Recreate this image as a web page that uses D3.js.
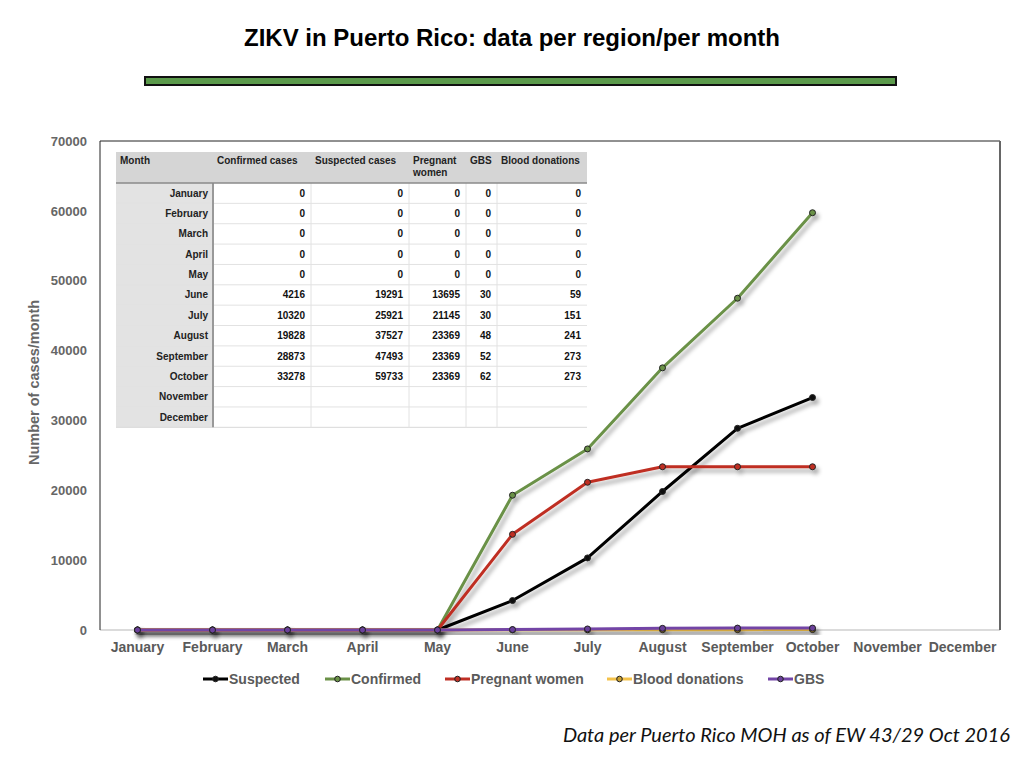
<!DOCTYPE html>
<html>
<head>
<meta charset="utf-8">
<script src="https://cdn.jsdelivr.net/npm/d3@7"></script>
<style>
  body { margin: 0; background: #fff; }
  svg { display: block; font-family: "Liberation Sans", Arial, sans-serif; }
</style>
</head>
<body>
<svg id="chart" width="1024" height="768"></svg>
<script>
const months = ["January", "February", "March", "April", "May", "June",
  "July", "August", "September", "October", "November", "December"];

// table columns as printed in the overlay
const confirmedCases = [0, 0, 0, 0, 0, 4216, 10320, 19828, 28873, 33278, null, null];
const suspectedCases = [0, 0, 0, 0, 0, 19291, 25921, 37527, 47493, 59733, null, null];
const pregnantWomen = [0, 0, 0, 0, 0, 13695, 21145, 23369, 23369, 23369, null, null];
const gbsCases = [0, 0, 0, 0, 0, 30, 30, 48, 52, 62, null, null];
const bloodDonations = [0, 0, 0, 0, 0, 59, 151, 241, 273, 273, null, null];

const tableHeaders = ["Month", "Confirmed cases", "Suspected cases", "Pregnant women", "GBS", "Blood donations"];
const tableColumns = [confirmedCases, suspectedCases, pregnantWomen, gbsCases, bloodDonations];

const yTicks = [0, 10000, 20000, 30000, 40000, 50000, 60000, 70000];

// the original chart's legend names do not line up with the table columns;
// lines are drawn the way the picture shows them
const series = [
  { name: "Suspected", values: confirmedCases, color: "#000000", marker: "#111111" },
  { name: "Confirmed", values: suspectedCases, color: "#6a9147", marker: "#6a9147" },
  { name: "Pregnant women", values: pregnantWomen, color: "#bf2f24", marker: "#bf2f24" },
  { name: "Blood donations", values: gbsCases, color: "#f4c24a", marker: "#c9a030" },
  { name: "GBS", values: bloodDonations, color: "#7345a6", marker: "#6a3f9a" }
];

const svg = d3.select("#chart");
const margin = { top: 141, right: 24, bottom: 138, left: 100 };
const width = 1024 - margin.left - margin.right;
const height = 768 - margin.top - margin.bottom;

// drop shadow used on lines
const defs = svg.append("defs");
defs.append("filter")
  .attr("id", "shadow")
  .attr("x", "-10%").attr("y", "-10%")
  .attr("width", "130%").attr("height", "130%")
  .append("feDropShadow")
  .attr("dx", 3).attr("dy", 4)
  .attr("stdDeviation", 2)
  .attr("flood-color", "#000")
  .attr("flood-opacity", 0.35);

// title and green bar
svg.append("text")
  .attr("x", 512)
  .attr("y", 46)
  .attr("text-anchor", "middle")
  .style("font-size", "24px")
  .style("font-weight", "bold")
  .text("ZIKV in Puerto Rico: data per region/per month");

svg.append("rect")
  .attr("x", 145).attr("y", 77)
  .attr("width", 751).attr("height", 8)
  .attr("fill", "#5b9a4b")
  .attr("stroke", "#111")
  .attr("stroke-width", 2);

const g = svg.append("g")
  .attr("transform", `translate(${margin.left},${margin.top})`);

const x = d3.scaleBand()
  .domain(months)
  .range([0, width]);

const y = d3.scaleLinear()
  .domain([0, 70000])
  .range([height, 0]);

// frame
g.append("line")
  .attr("x1", 0).attr("x2", width).attr("y1", height).attr("y2", height)
  .attr("stroke", "#cfcfcf").attr("stroke-width", 1.5);
g.append("line")
  .attr("x1", 0).attr("x2", width).attr("y1", 0).attr("y2", 0)
  .attr("stroke", "#222").attr("stroke-width", 1);
g.append("line")
  .attr("x1", 0).attr("x2", 0).attr("y1", 0).attr("y2", height)
  .attr("stroke", "#222").attr("stroke-width", 1);
g.append("line")
  .attr("x1", width).attr("x2", width).attr("y1", 0).attr("y2", height)
  .attr("stroke", "#666").attr("stroke-width", 2);

// axes
const yAxis = g.append("g")
  .call(d3.axisLeft(y).tickValues(yTicks).tickFormat(d3.format("d")).tickSize(0).tickPadding(13));
yAxis.select(".domain").remove();
yAxis.selectAll("text")
  .style("font-size", "13px")
  .style("font-weight", "bold")
  .attr("fill", "#666");

const xAxis = g.append("g")
  .attr("transform", `translate(0,${height})`)
  .call(d3.axisBottom(x).tickSize(0).tickPadding(12));
xAxis.select(".domain").remove();
xAxis.selectAll("text")
  .style("font-size", "14px")
  .style("font-weight", "bold")
  .attr("fill", "#5a5a5a");

svg.append("text")
  .attr("transform", `translate(39,${margin.top + height / 2 - 3}) rotate(-90)`)
  .attr("text-anchor", "middle")
  .style("font-size", "14.5px")
  .style("font-weight", "bold")
  .attr("fill", "#666")
  .text("Number of cases/month");

// table overlay
const table = svg.append("g").attr("transform", "translate(116,152)");
const colEdges = [0, 97, 195, 293, 350, 381, 471];
const headerH = 31;
const rowH = 20.36;
const tableH = headerH + rowH * months.length;

table.append("rect")
  .attr("width", colEdges[colEdges.length - 1]).attr("height", tableH)
  .attr("fill", "#fff");
table.append("rect")
  .attr("width", colEdges[colEdges.length - 1]).attr("height", headerH)
  .attr("fill", "#d5d5d5");
table.append("rect")
  .attr("y", headerH)
  .attr("width", colEdges[1]).attr("height", tableH - headerH)
  .attr("fill", "#e3e3e3");

months.forEach((m, i) => {
  const top = headerH + rowH * (i + 1);
  table.append("line")
    .attr("x1", 0).attr("x2", colEdges[colEdges.length - 1])
    .attr("y1", top).attr("y2", top)
    .attr("stroke", i === months.length - 1 ? "#d8d8d8" : "#e2e2e2");
});
colEdges.slice(2, -1).forEach(cx => {
  table.append("line")
    .attr("x1", cx).attr("x2", cx).attr("y1", headerH).attr("y2", tableH)
    .attr("stroke", "#e2e2e2");
});
table.append("line")
  .attr("x1", colEdges[1]).attr("x2", colEdges[1]).attr("y1", headerH).attr("y2", tableH)
  .attr("stroke", "#999").attr("stroke-width", 2);
table.append("line")
  .attr("x1", 0).attr("x2", colEdges[colEdges.length - 1]).attr("y1", headerH).attr("y2", headerH)
  .attr("stroke", "#8a8a8a").attr("stroke-width", 1.5);

tableHeaders.forEach((h, i) => {
  const words = h === "Pregnant women" ? ["Pregnant", "women"] : [h];
  const t = table.append("text")
    .attr("x", colEdges[i] + 4)
    .attr("y", 12)
    .style("font-size", "10px")
    .style("font-weight", "bold")
    .attr("fill", "#222");
  words.forEach((w, k) => {
    t.append("tspan").attr("x", colEdges[i] + 4).attr("dy", k === 0 ? 0 : 12).text(w);
  });
});

months.forEach((m, i) => {
  const cy = headerH + rowH * i + rowH / 2 + 3.5;
  table.append("text")
    .attr("x", colEdges[1] - 5)
    .attr("y", cy)
    .attr("text-anchor", "end")
    .style("font-size", "10px")
    .style("font-weight", "bold")
    .attr("fill", "#222")
    .text(m);
  tableColumns.forEach((col, j) => {
    if (col[i] === null) return;
    table.append("text")
      .attr("x", colEdges[j + 2] - 6)
      .attr("y", cy)
      .attr("text-anchor", "end")
      .style("font-size", "10px")
      .style("font-weight", "bold")
      .attr("fill", "#111")
      .text(col[i]);
  });
});

// lines
const line = d3.line()
  .defined(d => d.value !== null)
  .x(d => x(d.month) + x.bandwidth() / 2)
  .y(d => y(d.value));

series.forEach(s => {
  const pts = months.map((m, i) => ({ month: m, value: s.values[i] }));
  const sg = g.append("g").attr("filter", "url(#shadow)");
  sg.append("path")
    .datum(pts)
    .attr("fill", "none")
    .attr("stroke", s.color)
    .attr("stroke-width", 3)
    .attr("stroke-linejoin", "round")
    .attr("d", line);
  sg.selectAll("circle")
    .data(pts.filter(d => d.value !== null))
    .enter()
    .append("circle")
    .attr("cx", d => x(d.month) + x.bandwidth() / 2)
    .attr("cy", d => y(d.value))
    .attr("r", 3)
    .attr("fill", s.marker)
    .attr("stroke", "#222")
    .attr("stroke-width", 1);
});

// legend
const legendX = [203, 325, 445, 607, 768];
const legend = svg.append("g").attr("transform", "translate(0,679)");
series.forEach((s, i) => {
  const lg = legend.append("g").attr("transform", `translate(${legendX[i]},0)`);
  lg.append("line")
    .attr("x1", 0).attr("x2", 25).attr("y1", 0).attr("y2", 0)
    .attr("stroke", s.color).attr("stroke-width", 3);
  lg.append("circle")
    .attr("cx", 12.5).attr("cy", 0).attr("r", 2.8)
    .attr("fill", s.marker).attr("stroke", "#222").attr("stroke-width", 1);
  lg.append("text")
    .attr("x", 26).attr("y", 5)
    .style("font-size", "14px")
    .style("font-weight", "bold")
    .attr("fill", "#5a5a5a")
    .text(s.name);
});

// source note
svg.append("text")
  .attr("x", 1010)
  .attr("y", 742)
  .attr("text-anchor", "end")
  .style("font-family", "Lato, 'Noto Sans', sans-serif")
  .style("font-style", "italic")
  .style("font-size", "20px")
  .attr("fill", "#111")
  .text("Data per Puerto Rico MOH as of EW 43/29 Oct 2016");
</script>
</body>
</html>
